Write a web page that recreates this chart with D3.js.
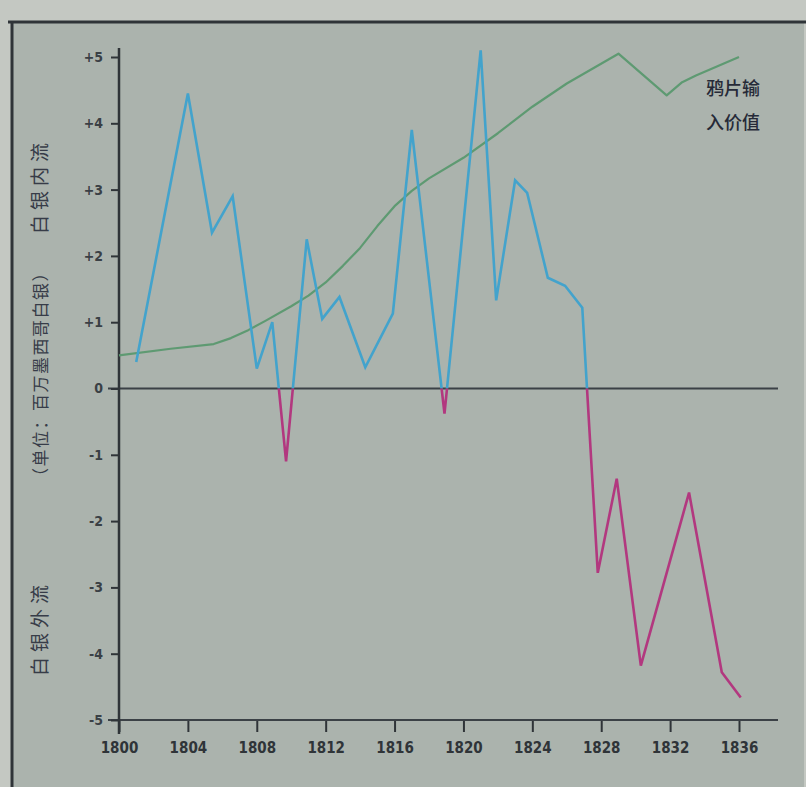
<!DOCTYPE html>
<html>
<head>
<meta charset="utf-8">
<script src="https://cdn.jsdelivr.net/npm/d3@7"></script>
<style>
  html, body { margin: 0; padding: 0; background: #c4c8c2; }
  svg { display: block; }
</style>
</head>
<body>
<svg id="chart" width="806" height="787"></svg>
<script>
// 年份刻度
const xTicks = [1800, 1804, 1808, 1812, 1816, 1820, 1824, 1828, 1832, 1836];
const yTicks = [-5, -4, -3, -2, -1, 0, 1, 2, 3, 4, 5];

// 白银流动（百万墨西哥银元），正值内流、负值外流
const flowYears = [1801, 1804, 1805.4, 1806.6, 1808, 1808.9, 1809.7, 1810.9, 1811.8, 1812.8,
  1814.3, 1815.9, 1817, 1818.9, 1821, 1821.9, 1823, 1823.7, 1824.9, 1825.9,
  1826.9, 1827.8, 1828.9, 1830.3, 1833.1, 1835, 1836.1];
const flowValues = [0.4, 4.45, 2.35, 2.9, 0.3, 1.0, -1.1, 2.25, 1.05, 1.38,
  0.32, 1.13, 3.9, -0.38, 5.1, 1.33, 3.14, 2.95, 1.67, 1.55,
  1.22, -2.78, -1.36, -4.18, -1.57, -4.28, -4.66];

// 鸦片输入价值
const opiumYears = [1800, 1803, 1805.5, 1806.5, 1807.5, 1808.5, 1810, 1811, 1812, 1813, 1814, 1815,
  1816, 1817, 1818, 1820, 1822, 1824, 1826, 1829, 1831.8, 1832.7, 1833.5, 1836];
const opiumValues = [0.5, 0.6, 0.67, 0.76, 0.88, 1.02, 1.24, 1.4, 1.6, 1.85, 2.12, 2.45,
  2.75, 2.98, 3.17, 3.48, 3.85, 4.25, 4.6, 5.05, 4.42, 4.62, 4.72, 5.0];

const svg = d3.select("#chart");

// 背景与外框
svg.append("rect").attr("x", 12).attr("y", 22).attr("width", 792).attr("height", 765)
  .attr("fill", "#abb3ad");
svg.append("line").attr("x1", 8).attr("x2", 806).attr("y1", 22).attr("y2", 22)
  .attr("stroke", "#2f3438").attr("stroke-width", 3);
svg.append("line").attr("x1", 12).attr("x2", 12).attr("y1", 22).attr("y2", 787)
  .attr("stroke", "#2f3438").attr("stroke-width", 3);

const x = d3.scaleLinear().domain([1800, 1836]).range([119, 739]);
const y = d3.scaleLinear().domain([-5, 5]).range([720, 57]);

const tickFont = "'Liberation Sans Narrow', 'DejaVu Sans Condensed', sans-serif";

// 零线
svg.append("line").attr("x1", 108).attr("x2", 778).attr("y1", y(0)).attr("y2", y(0))
  .attr("stroke", "#3b4146").attr("stroke-width", 2);

// x 轴
const gx = svg.append("g").attr("transform", `translate(0,${y(-5)})`)
  .call(d3.axisBottom(x).tickValues(xTicks).tickFormat(d3.format("d")).tickSize(12).tickPadding(10));
gx.select(".domain").remove();
gx.append("line").attr("x1", 108).attr("x2", 778).attr("y1", 0).attr("y2", 0)
  .attr("stroke", "#3b4146").attr("stroke-width", 2);
gx.selectAll(".tick line").attr("stroke", "#2f3438").attr("stroke-width", 2);
gx.selectAll(".tick text").attr("fill", "#2f3438").style("font-family", tickFont)
  .style("font-size", "15px").style("font-weight", "bold");

// y 轴
const gy = svg.append("g").attr("transform", `translate(${x(1800)},0)`)
  .call(d3.axisLeft(y).tickValues(yTicks)
    .tickFormat(d => d > 0 ? "+" + d : d < 0 ? "-" + (-d) : "0")
    .tickSize(8).tickPadding(8));
gy.select(".domain").remove();
gy.append("line").attr("x1", 0).attr("x2", 0).attr("y1", 48).attr("y2", 734)
  .attr("stroke", "#2f3438").attr("stroke-width", 2.5);
gy.selectAll(".tick line").attr("stroke", "#2f3438").attr("stroke-width", 2);
gy.selectAll(".tick text").attr("fill", "#3a4045").style("font-family", tickFont)
  .style("font-size", "14px").style("font-weight", "bold");

// 纵轴说明文字（竖排）
const sideLabels = [
  { text: "白银内流", cy: 186, size: 19, gap: 5 },
  { text: "（单位：百万墨西哥白银）", cy: 374, size: 17, gap: 1.5 },
  { text: "白银外流", cy: 628, size: 19, gap: 5 }
];
svg.selectAll("text.side").data(sideLabels).join("text")
  .attr("class", "side")
  .attr("transform", d => `translate(47,${d.cy}) rotate(-90)`)
  .attr("text-anchor", "middle")
  .attr("fill", "#373c48")
  .style("font-family", "'Noto Sans CJK SC', sans-serif")
  .style("font-size", d => d.size + "px")
  .style("letter-spacing", d => d.gap + "px")
  .text(d => d.text);

// 鸦片输入价值曲线
const opiumData = opiumYears.map((yr, i) => [yr, opiumValues[i]]);
svg.append("path").datum(opiumData)
  .attr("fill", "none").attr("stroke", "#5e9a72").attr("stroke-width", 2.2)
  .attr("stroke-linejoin", "round")
  .attr("d", d3.line().x(d => x(d[0])).y(d => y(d[1])));

// 白银流动折线：零线上方蓝色，下方紫红
const flowData = flowYears.map((yr, i) => [yr, flowValues[i]]);
const defs = svg.append("defs");
defs.append("clipPath").attr("id", "clip-up").append("rect")
  .attr("x", 0).attr("y", 0).attr("width", 806).attr("height", y(0));
defs.append("clipPath").attr("id", "clip-down").append("rect")
  .attr("x", 0).attr("y", y(0)).attr("width", 806).attr("height", 787 - y(0));

const flowLine = d3.line().x(d => x(d[0])).y(d => y(d[1]));
svg.append("path").datum(flowData).attr("clip-path", "url(#clip-up)")
  .attr("fill", "none").attr("stroke", "#43a3cc").attr("stroke-width", 2.6)
  .attr("d", flowLine);
svg.append("path").datum(flowData).attr("clip-path", "url(#clip-down)")
  .attr("fill", "none").attr("stroke", "#b2387f").attr("stroke-width", 2.6)
  .attr("d", flowLine);

// 曲线标签
const opiumLabel = ["鸦片输", "入价值"];
svg.selectAll("text.opium").data(opiumLabel).join("text")
  .attr("class", "opium")
  .attr("x", 733).attr("y", (d, i) => 95 + i * 34)
  .attr("text-anchor", "middle")
  .attr("fill", "#262a38")
  .style("font-family", "'Noto Sans CJK SC', sans-serif")
  .style("font-size", "18px")
  .style("font-weight", "500")
  .text(d => d);
</script>
</body>
</html>
